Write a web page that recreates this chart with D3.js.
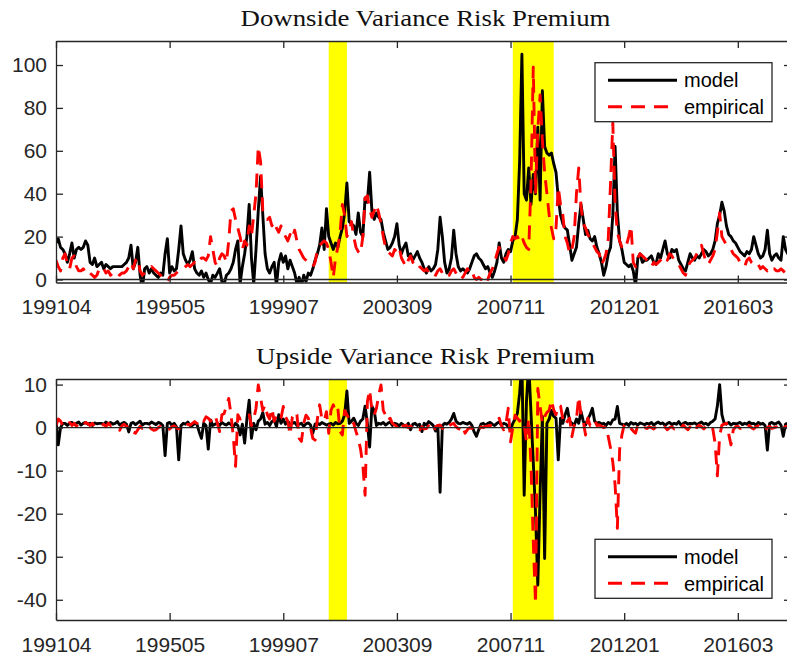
<!DOCTYPE html>
<html>
<head>
<meta charset="utf-8">
<script src="https://cdn.jsdelivr.net/npm/d3@7/dist/d3.min.js"></script>
<style>
  body { margin: 0; background: #fff; }
  svg { display: block; }
</style>
</head>
<body>
<svg id="chart" width="787" height="662"></svg>
<script>
// Monthly series, first observation 1991-04
const startMonth = "199104";
const xTickPos = [0, 50, 100, 150, 200, 250, 300];
const xTickLabels = ["199104", "199505", "199907", "200309", "200711", "201201", "201603"];
// NBER recession months (shaded)
const recessions = [["200104", "200112"], ["200801", "200907"]];

const downTicks = [0, 20, 40, 60, 80, 100];
const upTicks = [10, 0, -10, -20, -30, -40];

// Downside variance risk premium
const downModel = [
  17,19,15,14,12,8,12,17,10,14,15,14,15,18,16,8,7,10,6,7,
  8,5,7,6,5,6,6,6,6,6,7,8,10,16,5,8,15,2,-4,5,
  6,3,5,3,2,1,3,2,12,19,3,6,4,5,14,25,12,9,7,9,
  13,5,3,2,4,1,3,0,-2,2,1,3,5,-1,-2,2,3,5,8,14,
  18,-2,6,12,20,35,10,-2,14,32,48,30,12,5,3,6,8,-3,8,12,
  8,11,5,9,6,3,-2,1,-3,2,-1,3,2,5,9,12,16,24,14,33,
  20,17,14,17,15,20,24,31,45,27,26,25,21,31,22,20,38,36,50,32,
  28,31,29,28,22,18,14,15,17,20,26,16,12,15,17,11,12,9,11,13,
  10,8,5,3,6,4,5,7,14,29,20,8,3,5,10,23,12,6,4,5,
  4,3,5,8,11,12,10,9,7,5,6,3,1,4,8,17,10,8,12,14,
  13,18,20,28,55,105,40,37,52,35,49,40,71,37,88,62,59,58,59,54,
  50,38,30,26,24,23,16,9,12,15,26,35,28,21,23,19,18,20,15,12,
  8,2,6,12,15,30,62,31,18,14,8,7,6,7,4,-3,10,12,8,9,
  9,10,11,8,7,12,10,14,18,12,10,14,13,14,9,7,5,4,8,12,
  10,9,11,10,12,14,13,11,12,14,18,26,30,36,32,25,21,20,18,17,
  15,13,12,11,13,12,14,20,16,12,10,11,14,23,12,9,11,12,10,9,20,
  14,12,18
];
const downEmpirical = [
  9,6,4,10,12,7,5,10,11,6,4,4,5,3,4,3,2,1,2,5,
  4,5,3,4,2,3,4,3,2,3,3,4,6,8,5,9,10,4,2,3,
  4,5,6,5,4,3,2,1,0,-1,1,2,2,3,4,4,5,6,7,6,
  7,8,7,9,10,10,9,11,20,14,8,6,10,12,11,8,18,32,33,28,
  24,20,14,18,16,25,20,30,40,62,55,32,30,28,29,25,27,24,22,25,
  22,20,18,21,19,23,18,14,12,10,9,8,7,6,8,14,16,17,18,17,
  14,8,1,10,15,22,35,30,20,22,27,20,15,13,12,20,38,39,33,29,
  32,35,31,26,20,15,13,12,11,14,13,15,10,8,6,9,11,8,7,8,
  6,5,4,5,3,4,3,2,4,5,3,2,3,2,4,5,3,1,2,1,
  3,5,3,4,1,0,1,0,2,1,0,3,5,8,12,15,12,11,9,12,
  17,20,19,20,18,20,17,15,14,45,99,40,70,86,65,50,40,30,24,19,
  24,43,35,30,20,17,12,14,20,40,52,34,26,24,21,19,17,15,13,12,
  7,9,12,19,45,73,35,22,18,15,14,16,20,25,8,6,10,12,11,10,
  9,7,6,8,7,8,9,10,11,9,12,11,9,8,7,5,3,2,6,8,
  9,10,12,14,16,12,8,7,9,11,14,22,31,20,18,16,15,14,12,11,
  10,8,7,6,9,10,8,7,6,7,5,6,5,4,5,4,5,4,4,5,4,
  3,4,4
];

// Upside variance risk premium
const upModel = [
  2,-4,0,1,1,0.5,1,1.2,0.8,1,1.3,0.6,1,1.2,0.8,1,0.5,1.1,0.9,1,
  1,0.7,1.3,0.9,1.2,0.8,1,1.4,0.6,1,1.2,0.8,-1,1,1.2,0.7,1.1,1.5,0.6,1,
  1,0.8,1.3,1,0.7,1.2,1,0.5,-6.5,1,1.2,0.5,1,0.2,-7.5,0.5,1,0.8,1.3,0.5,
  0.5,1,0.8,-1,-2.5,1,0.5,-5,1.8,0.5,0.8,1,0.5,1.2,0.8,0.6,1.1,0.7,0.2,1,
  0.5,-1.7,0.8,-3.6,2,6.4,-2.5,1,-0.5,1.5,2,3.5,0.8,1.2,0.5,1.4,1.8,0.2,3,1,
  2,0.8,1.5,0.6,1,1.2,0.5,0.8,1,0.3,0.9,1.1,0.6,-1.3,0.8,1,0.7,1.2,0.9,0.6,
  0.8,1,0.6,1.2,0.9,1,1.5,3,8.5,1,1.5,2.2,1,0.5,1.5,2,5,1,-4.5,5,
  4,0.5,1,0.8,1.2,0.6,1,1.3,0.5,1,0.8,0.4,1,0.6,0.2,1,-0.5,0.8,1,0.5,
  0.8,-0.9,1,0.6,1.4,1,0.5,-0.8,0.5,-15,0.5,1,0.8,1.2,2,3.3,1.5,1,0.9,1.2,
  1,0.8,1.2,0.5,-1,-2,-0.5,0.8,1,0.6,1,1.2,0.8,0.5,1,1.3,0.6,1,0.8,0.2,
  -0.5,1,2,3.3,8,15,-15.7,6,15,3.3,-8,-20,-36.6,-15.3,2.6,-30.4,1,2,4,2.6,
  2.2,-7.5,2.2,1,3,4.5,1.5,1,0.5,2,1,3.7,1.5,0.6,2,3,4.5,1.5,1,1.2,
  0.8,1,0.5,1.2,0.8,1.8,2,4.9,1,0.8,0.6,1,0.5,1.2,0.8,1,0.6,1.1,0.9,0.7,
  1,0.8,1.2,0.6,1,1.3,0.9,1.1,0.5,1,1.2,0.7,1,0.8,1.4,0.6,1,1.2,0.8,1,
  0.9,1.1,0.7,1,1.3,0.8,1,0.6,1.2,1.5,2,5,10,3,1,0.8,1.2,0.6,1,0.9,
  1,1.2,0.7,1,0.8,1.3,0.9,1,0.6,1.2,0.8,1,0.5,-5.2,1,1.2,0.8,1,1.3,0.6,-2,
  0.8,1,-1
];
const upEmpirical = [
  0.5,2,1.5,0.5,1,0.6,1.2,0.5,1,0.3,1,0.8,0.4,1.2,0.9,0.5,1,0.2,0.6,0.3,
  0.5,0.8,0.2,1,0.5,0.6,0.2,-0.3,-0.6,0.4,0.8,0.2,0.5,-0.2,-1,-1.3,-0.5,0.3,-0.2,0,
  -0.5,0.2,-0.3,-0.6,-0.5,0,0.3,-0.2,-0.5,-0.6,-0.3,0.2,0.4,0,-0.3,-0.2,0.5,0.2,0.8,0.6,
  1,1.4,1,2,2.2,1.5,2.5,2.2,1.5,2.5,2.9,1,-0.9,3,3.3,5,6.8,3,-2,-9,
  3,2,2.2,2,2.5,3,0.5,2,4.5,9.9,7,4,5.3,3,2,4.5,1.5,3,2,2.2,
  4.9,2.5,1.5,-1.7,2.5,3.7,3,-2.5,-3.2,1,2.9,2.2,0,-2.5,-2.9,2,5.3,2,1.5,3.7,
  -1.3,4,5.3,3.7,4.5,-0.9,-1.7,4,3,2,0.6,1,-0.9,-2.5,-5,-8.7,-15.7,6,8.8,4,
  2.9,4.5,7.6,9.9,4,2.9,1.5,2.2,1,0.6,0.3,1.4,0.8,0.2,0.6,0,0.4,-0.2,0.2,-0.4,
  -0.5,0.2,-0.3,-0.2,0.4,-0.6,-0.9,0.2,0.5,0.6,-0.2,0.3,-0.3,0.5,0.8,1,0.2,-0.2,-0.5,0.3,
  -1.3,-0.5,0,-0.2,0.3,-0.4,-0.5,0.2,0,0.3,0.4,0.5,0.6,1,1.5,2.2,0.5,-0.5,1,4.5,
  -3.3,0,2.9,2.2,1.5,2,0.5,-3.3,2.2,-8.7,-26.5,-41,9.1,4.9,1,2.6,3.5,4,6.4,4.1,
  3,5.3,5,2,0.6,1.5,2.2,-2.1,0.6,2,7.2,3,1.5,-1.7,2.2,0.5,1,1.8,0.5,0.6,
  0.3,0,0.3,-2.1,-4.8,-8,-13.3,-23.4,-5,-1.7,0.6,1,0.4,-0.2,-0.8,-1.3,0.6,0.2,-0.2,0,
  -0.2,0.2,0,-0.3,0.2,0,-0.2,0.3,0.1,-0.5,0,0.2,-0.3,0,0.3,-0.2,0.6,0,-0.5,0.2,
  -0.6,0.3,0,0.6,0.2,-0.3,0.3,0.8,0.2,-0.3,-3.6,-11.2,-2,0.6,0.8,1,-1.5,-4,-0.5,0.2,
  0.3,-0.2,0,0.3,-0.2,0.5,0,-0.3,0.2,0.4,-0.1,0.2,-0.5,0,0.3,-0.2,0,0.2,-0.3,0.1,-0.2,
  0.3,-0.1,0.2
];

const seriesNames = ["model", "empirical"];

// ---------------------------------------------------------------------------
const AXIS_COLOR = "#262626";
const svg = d3.select("#chart");
svg.append("rect").attr("width", 787).attr("height", 662).attr("fill", "#fff");

function monthIndex(s) {
  return (+s.slice(0, 4) - +startMonth.slice(0, 4)) * 12 + (+s.slice(4) - +startMonth.slice(4));
}

const plotLeft = 56, plotRight = 791;
const x = d3.scaleLinear().domain([0, 323.4]).range([plotLeft, plotRight]);

const styles = {
  model: { stroke: "#000000", dash: null },
  empirical: { stroke: "#ff0000", dash: "14,9" }
};
const LINE_W = 2.9;

function drawPanel(cfg, idx) {
  const y = d3.scaleLinear().domain(cfg.domain).range([cfg.bottom, cfg.top]);
  const g = svg.append("g");
  const clipId = "clip" + idx;

  svg.append("defs").append("clipPath").attr("id", clipId)
    .append("rect")
    .attr("x", plotLeft).attr("y", cfg.top)
    .attr("width", plotRight - plotLeft).attr("height", cfg.bottom - cfg.top);

  // recession shading
  g.append("g").selectAll("rect").data(recessions).join("rect")
    .attr("x", d => x(monthIndex(d[0])))
    .attr("width", d => x(monthIndex(d[1])) - x(monthIndex(d[0])))
    .attr("y", cfg.top)
    .attr("height", cfg.bottom - cfg.top)
    .attr("fill", "#ffff00");

  const line = d3.line().x((d, i) => x(i)).y(d => y(d));
  const data = g.append("g").attr("clip-path", `url(#${clipId})`);

  cfg.series.forEach((vals, k) => {
    const st = styles[seriesNames[k]];
    data.append("path")
      .datum(vals)
      .attr("d", line)
      .attr("fill", "none")
      .attr("stroke", st.stroke)
      .attr("stroke-width", LINE_W)
      .attr("stroke-dasharray", st.dash)
      .attr("stroke-linejoin", "round");
  });

  // zero reference line
  data.append("line")
    .attr("x1", plotLeft).attr("x2", plotRight)
    .attr("y1", y(0)).attr("y2", y(0))
    .attr("stroke", AXIS_COLOR).attr("stroke-width", 1.3);

  // axes (box with inward ticks)
  const font = "'Liberation Sans', Arial, Helvetica, sans-serif";
  const bottomAxis = g.append("g").attr("transform", `translate(0,${cfg.bottom})`)
    .call(d3.axisBottom(x).tickValues(xTickPos)
      .tickFormat((d, i) => xTickLabels[i])
      .tickSizeInner(-7).tickSizeOuter(0).tickPadding(16.6));
  const topAxis = g.append("g").attr("transform", `translate(0,${cfg.top})`)
    .call(d3.axisTop(x).tickValues(xTickPos).tickFormat("")
      .tickSizeInner(-7).tickSizeOuter(0));
  const leftAxis = g.append("g").attr("transform", `translate(${plotLeft},0)`)
    .call(d3.axisLeft(y).tickValues(cfg.ticks).tickFormat(d3.format("d"))
      .tickSizeInner(-7).tickSizeOuter(0).tickPadding(9));
  const rightAxis = g.append("g").attr("transform", `translate(${plotRight},0)`)
    .call(d3.axisRight(y).tickValues(cfg.ticks).tickFormat("")
      .tickSizeInner(-7).tickSizeOuter(0));

  [bottomAxis, topAxis, leftAxis, rightAxis].forEach(a => {
    a.select(".domain").attr("stroke", AXIS_COLOR).attr("stroke-width", 1.3);
    a.selectAll(".tick line").attr("stroke", AXIS_COLOR).attr("stroke-width", 1.3);
    a.selectAll("text").attr("fill", AXIS_COLOR)
      .style("font-family", font).style("font-size", "21px");
  });
  leftAxis.selectAll("text").text(d => d < 0 ? "-" + Math.abs(d) : d);

  // title
  svg.append("text")
    .attr("x", 425.5).attr("y", cfg.top - 15)
    .attr("text-anchor", "middle")
    .attr("textLength", cfg.titleWidth)
    .attr("lengthAdjust", "spacingAndGlyphs")
    .style("font-family", "'Liberation Serif', 'Times New Roman', serif")
    .style("font-size", "24px")
    .attr("fill", "#111")
    .text(cfg.title);

  // legend
  const lg = svg.append("g").attr("transform", `translate(595,${cfg.legendTop})`);
  lg.append("rect").attr("width", 177).attr("height", 59)
    .attr("fill", "#fff").attr("stroke", AXIS_COLOR).attr("stroke-width", 1.3);
  seriesNames.forEach((name, k) => {
    const st = styles[name];
    const yy = 17.5 + k * 26.5;
    lg.append("line")
      .attr("x1", 13).attr("x2", 82).attr("y1", yy).attr("y2", yy)
      .attr("stroke", st.stroke).attr("stroke-width", LINE_W)
      .attr("stroke-dasharray", st.dash);
    lg.append("text")
      .attr("x", 89).attr("y", yy + 7.3)
      .style("font-family", font).style("font-size", "20px")
      .attr("fill", "#000")
      .text(name);
  });
}

const panels = [
  { title: "Downside Variance Risk Premium", titleWidth: 370,
    top: 41, bottom: 282.5, domain: [-1.4, 111.2], ticks: downTicks,
    series: [downModel, downEmpirical], legendTop: 62.7 },
  { title: "Upside Variance Risk Premium", titleWidth: 339,
    top: 379, bottom: 620, domain: [-44.7, 11.3], ticks: upTicks,
    series: [upModel, upEmpirical], legendTop: 539.3 }
];
panels.forEach(drawPanel);
</script>
</body>
</html>
